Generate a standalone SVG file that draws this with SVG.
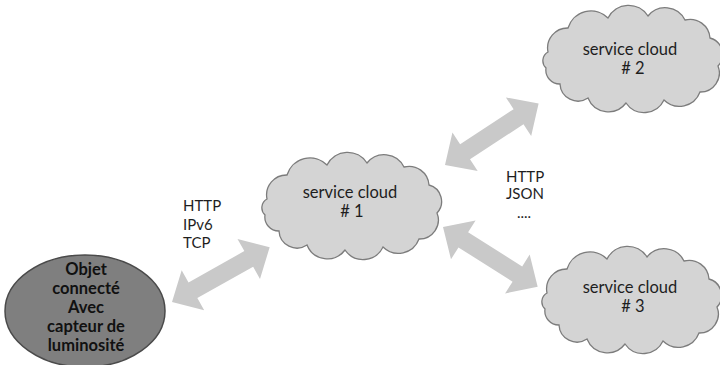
<svg xmlns="http://www.w3.org/2000/svg" xmlns:xlink="http://www.w3.org/1999/xlink" width="720" height="365" viewBox="0 0 720 365">
  <style>
    .cloud { fill: #d4d4d4; stroke: #7c7c7c; stroke-width: 1.3; }
    .cloud-txt { font-family: Lato, "Liberation Sans", sans-serif; font-size: 16.5px; fill: #1e1e1e; text-anchor: middle; }
    .device { fill: #7f7f7f; stroke: #4a4a4a; stroke-width: 1.5; }
    .device-txt { font-family: Lato, "Liberation Sans", sans-serif; font-size: 16.5px; font-weight: bold; fill: #111; text-anchor: middle; }
    .link { fill: #c9c9c9; stroke: none; }
    .proto { font-family: Lato, "Liberation Sans", sans-serif; font-size: 15px; fill: #1e1e1e; }
  </style>
  <defs>
    <!-- cloud outline in a 182 x 105 local box -->
    <path id="cloudShape" d="M8,48 A20,20 0 0 1 28,24 A24,24 0 0 1 68,14 A23,23 0 0 1 108,12 A22,22 0 0 1 145,16 A20,20 0 0 1 170,34 A17,17 0 0 1 178,62 A19,19 0 0 1 160,88 A22,22 0 0 1 124,96 A22,22 0 0 1 86,99 A22,22 0 0 1 48,94 A18,18 0 0 1 20,80 A14,14 0 0 1 6,64 A10,10 0 0 1 8,48 Z"/>
    <!-- double-headed block arrow, tip to tip 112 long -->
    <path id="dblArrow" d="M0,0 L24,-23 L24,-9 L88,-9 L88,-23 L112,0 L88,23 L88,9 L24,9 L24,23 Z"/>
  </defs>

  <rect width="720" height="365" fill="#ffffff"/>

  <g id="connectors">
    <use xlink:href="#dblArrow" class="link" transform="translate(172,302) rotate(-29.3)"/>
    <use xlink:href="#dblArrow" class="link" transform="translate(445,165) rotate(-33.3)"/>
    <use xlink:href="#dblArrow" class="link" transform="translate(443,227) rotate(32.3)"/>
  </g>

  <g id="labels">
    <text class="proto" x="183" y="211">HTTP</text>
    <text class="proto" x="183" y="230">IPv6</text>
    <text class="proto" x="183" y="248">TCP</text>
    <text class="proto" x="506" y="182">HTTP</text>
    <text class="proto" x="506" y="199">JSON</text>
    <text class="proto" x="517" y="218">....</text>
  </g>

  <g id="device">
    <ellipse class="device" cx="85" cy="311" rx="80" ry="56"/>
    <text class="device-txt" x="86" y="275">Objet</text>
    <text class="device-txt" x="86" y="294">connecté</text>
    <text class="device-txt" x="86" y="313">Avec</text>
    <text class="device-txt" x="86" y="332">capteur de</text>
    <text class="device-txt" x="86" y="351">luminosité</text>
  </g>

  <g id="cloud1">
    <use xlink:href="#cloudShape" class="cloud" transform="translate(259,151)"/>
    <text class="cloud-txt" x="350" y="198">service cloud</text>
    <text class="cloud-txt" x="352" y="217"># 1</text>
  </g>

  <g id="cloud2">
    <use xlink:href="#cloudShape" class="cloud" transform="translate(540,4)"/>
    <text class="cloud-txt" x="630" y="55">service cloud</text>
    <text class="cloud-txt" x="633" y="74"># 2</text>
  </g>

  <g id="cloud3">
    <use xlink:href="#cloudShape" class="cloud" transform="translate(539,245)"/>
    <text class="cloud-txt" x="630" y="293">service cloud</text>
    <text class="cloud-txt" x="633" y="312"># 3</text>
  </g>
</svg>
